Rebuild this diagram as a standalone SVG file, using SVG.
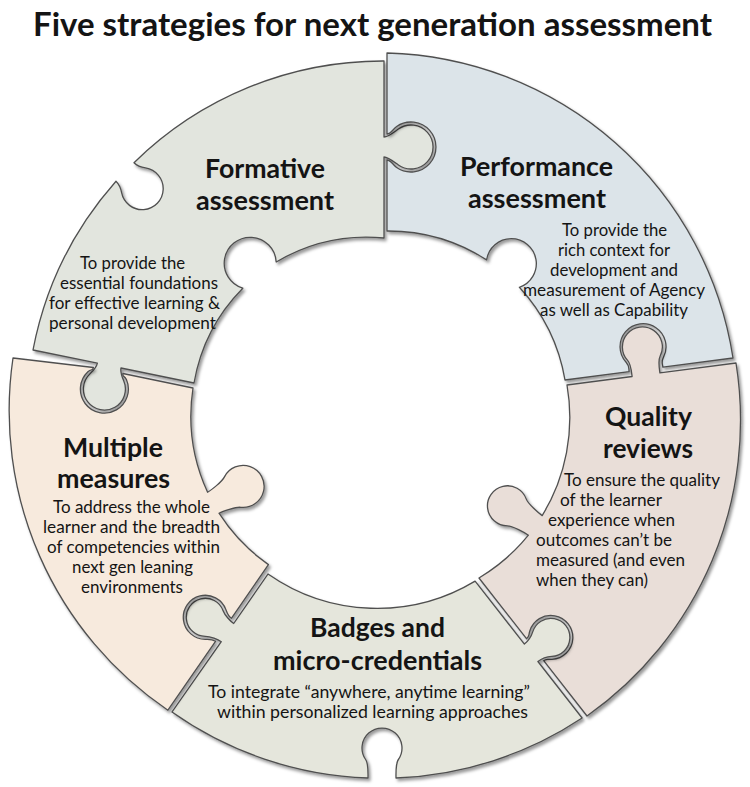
<svg xmlns="http://www.w3.org/2000/svg" width="750" height="787" viewBox="0 0 750 787">
<defs>
<filter id="shadow" x="-5%" y="-5%" width="115%" height="115%">
<feDropShadow dx="2" dy="2.5" stdDeviation="1.8" flood-color="#000" flood-opacity="0.4"/>
</filter>
<style>
.piece{stroke:#505050;stroke-width:1.3;stroke-linejoin:round}
.t{font-family:Lato,"Open Sans","Liberation Sans",sans-serif;fill:#141414}
.title{font-size:33px;font-weight:700}
.h{font-size:27px;font-weight:700}
.hq{font-size:26px;font-weight:700}
.b{font-size:17px}
</style>
</defs>
<rect width="750" height="787" fill="#ffffff"/>
<text class="t title" x="33" y="36" textLength="679" lengthAdjust="spacingAndGlyphs">Five strategies for next generation assessment</text>

<g id="formative">
<path class="piece" filter="url(#shadow)" fill="#e2e5de" d="M33,350 A355,355 0 0 1 116,181.3 C118.8,184.1 120.7,187.8 121.6,192.7 A21,21 0 1 0 145.5,167.9 C140.6,167.1 136.9,165.5 134,162.7 A355,355 0 0 1 384,61 L384,137 C388,137 394.3,131.9 398.4,129 A22,22 0 1 1 398.4,165 C394.3,162.1 388,157 384,157 L384,238 A178,178 0 0 0 276.2,262 A26,26 0 1 0 242.8,288.2 A178,178 0 0 0 194,383 L121,368 C120.2,371.9 121.7,376.2 123.7,380.8 A21,21 0 1 1 89.9,373.9 C93.5,370.5 96.6,367.1 97.4,363.2 Z"/>
<text class="t h" x="205" y="178" textLength="120" lengthAdjust="spacingAndGlyphs">Formative</text>
<text class="t h" x="196" y="210" textLength="138" lengthAdjust="spacingAndGlyphs">assessment</text>
<text class="t b" x="80" y="269" textLength="105" lengthAdjust="spacingAndGlyphs">To provide the</text>
<text class="t b" x="60" y="289" textLength="158" lengthAdjust="spacingAndGlyphs">essential foundations</text>
<text class="t b" x="49" y="309" textLength="171" lengthAdjust="spacingAndGlyphs">for effective learning &amp;</text>
<text class="t b" x="49" y="329" textLength="167" lengthAdjust="spacingAndGlyphs">personal development</text>
</g>

<g id="performance">
<path class="piece" filter="url(#shadow)" fill="#dce4e9" d="M387,53 A360,360 0 0 1 733,358 L662.9,367.2 C662.4,363.2 661.1,361.8 663.4,357.4 A23,23 0 1 0 626.1,362.3 C629.5,366 628.6,367.6 629.1,371.6 L565,380 A182,182 0 0 0 519.4,287.3 A25,25 0 1 0 486.6,259.9 A182,182 0 0 0 387,231 L387,160 C391,160 392.55,164.6 396.65,167.5 A25,25 0 1 0 396.65,126.5 C392.55,129.4 391,134 387,134 Z"/>
<text class="t h" x="460" y="176" textLength="153" lengthAdjust="spacingAndGlyphs">Performance</text>
<text class="t h" x="468" y="208" textLength="138" lengthAdjust="spacingAndGlyphs">assessment</text>
<text class="t b" x="562" y="236" textLength="105" lengthAdjust="spacingAndGlyphs">To provide the</text>
<text class="t b" x="558" y="256" textLength="112" lengthAdjust="spacingAndGlyphs">rich context for</text>
<text class="t b" x="550" y="276" textLength="128" lengthAdjust="spacingAndGlyphs">development and</text>
<text class="t b" x="523" y="296" textLength="182" lengthAdjust="spacingAndGlyphs">measurement of Agency</text>
<text class="t b" x="540" y="316" textLength="148" lengthAdjust="spacingAndGlyphs">as well as Capability</text>
</g>

<g id="quality">
<path class="piece" filter="url(#shadow)" fill="#e9ded8" d="M736,363 A362,362 0 0 1 587,716 L543.7,660.7 C546.9,658.3 547,659.7 552,659.4 A22,22 0 1 0 529.8,631 C528.3,635.8 529.7,636.2 526.5,638.7 L479,578 A188,188 0 0 0 528.4,535.2 C525.1,532.9 512.5,525.8 507.5,525.8 A20,20 0 1 1 526.3,499.1 C528,503.8 538.9,513.3 542.2,515.6 A188,188 0 0 0 567,385 L632.1,376.5 C631.6,372.5 631,364.1 627.6,360.4 A20,20 0 1 1 660.1,356.2 C657.8,360.6 659.4,368.9 659.9,372.9 Z"/>
<text class="t hq" x="605" y="426" textLength="87" lengthAdjust="spacingAndGlyphs">Quality</text>
<text class="t hq" x="603" y="458" textLength="90" lengthAdjust="spacingAndGlyphs">reviews</text>
<text class="t b" x="564" y="486" textLength="156" lengthAdjust="spacingAndGlyphs">To ensure the quality</text>
<text class="t b" x="560" y="506" textLength="102" lengthAdjust="spacingAndGlyphs">of the learner</text>
<text class="t b" x="548" y="526" textLength="127" lengthAdjust="spacingAndGlyphs">experience when</text>
<text class="t b" x="536" y="546" textLength="136" lengthAdjust="spacingAndGlyphs">outcomes can’t be</text>
<text class="t b" x="536" y="566" textLength="149" lengthAdjust="spacingAndGlyphs">measured (and even</text>
<text class="t b" x="536" y="586" textLength="112" lengthAdjust="spacingAndGlyphs">when they can)</text>
</g>

<g id="badges">
<path class="piece" filter="url(#shadow)" fill="#e5e6dc" d="M582.1,718 A361,361 0 0 1 396,778 C396,774 395.5,763.6 398.4,759.5 A20,20 0 1 0 365.6,759.5 C368.5,763.6 368,774 368,778 A361,361 0 0 1 172,712 L221.3,641.7 C218,639.4 210.4,636.3 205.4,636.3 A19,19 0 1 1 223.1,610.7 C224.8,615.4 230.4,621.2 233.7,623.5 L268,574 A190,190 0 0 0 475.1,581.1 L524.4,644.1 C527.6,641.6 531.2,636.7 532.7,631.9 A19,19 0 1 1 551.9,656.4 C546.9,656.7 541.1,659 537.9,661.5 Z"/>
<text class="t h" x="310" y="637" textLength="135" lengthAdjust="spacingAndGlyphs">Badges and</text>
<text class="t h" x="273" y="670" textLength="209" lengthAdjust="spacingAndGlyphs">micro-credentials</text>
<text class="t b" x="208" y="698" textLength="322" lengthAdjust="spacingAndGlyphs">To integrate “anywhere, anytime learning”</text>
<text class="t b" x="217" y="718" textLength="311" lengthAdjust="spacingAndGlyphs">within personalized learning approaches</text>
</g>

<g id="multiple">
<path class="piece" filter="url(#shadow)" fill="#f7eadd" d="M167.9,710.2 A362,362 0 0 1 13,358 L93.5,367.5 C92.7,371.4 91.5,368.3 87.9,371.7 A24,24 0 1 0 126.4,379.6 C124.4,375 122.1,377.4 122.9,373.5 L193,388 A183,183 0 0 0 207.6,492.2 C211.1,490.3 222.1,481.6 224.3,477.1 A21,21 0 1 1 240.8,507.3 C235.8,506.7 222.5,511.3 219,513.2 A183,183 0 0 0 268.4,564.6 L231.4,618.3 C228.1,616 227.6,614.3 225.9,609.6 A22,22 0 1 0 205.5,639.3 C210.5,639.3 212.2,639 215.5,641.3 Z"/>
<text class="t h" x="63" y="457" textLength="100" lengthAdjust="spacingAndGlyphs">Multiple</text>
<text class="t h" x="57" y="488" textLength="113" lengthAdjust="spacingAndGlyphs">measures</text>
<text class="t b" x="53" y="513" textLength="157" lengthAdjust="spacingAndGlyphs">To address the whole</text>
<text class="t b" x="43" y="533" textLength="177" lengthAdjust="spacingAndGlyphs">learner and the breadth</text>
<text class="t b" x="47" y="553" textLength="173" lengthAdjust="spacingAndGlyphs">of competencies within</text>
<text class="t b" x="72" y="573" textLength="121" lengthAdjust="spacingAndGlyphs">next gen leaning</text>
<text class="t b" x="81" y="593" textLength="102" lengthAdjust="spacingAndGlyphs">environments</text>
</g>
</svg>
